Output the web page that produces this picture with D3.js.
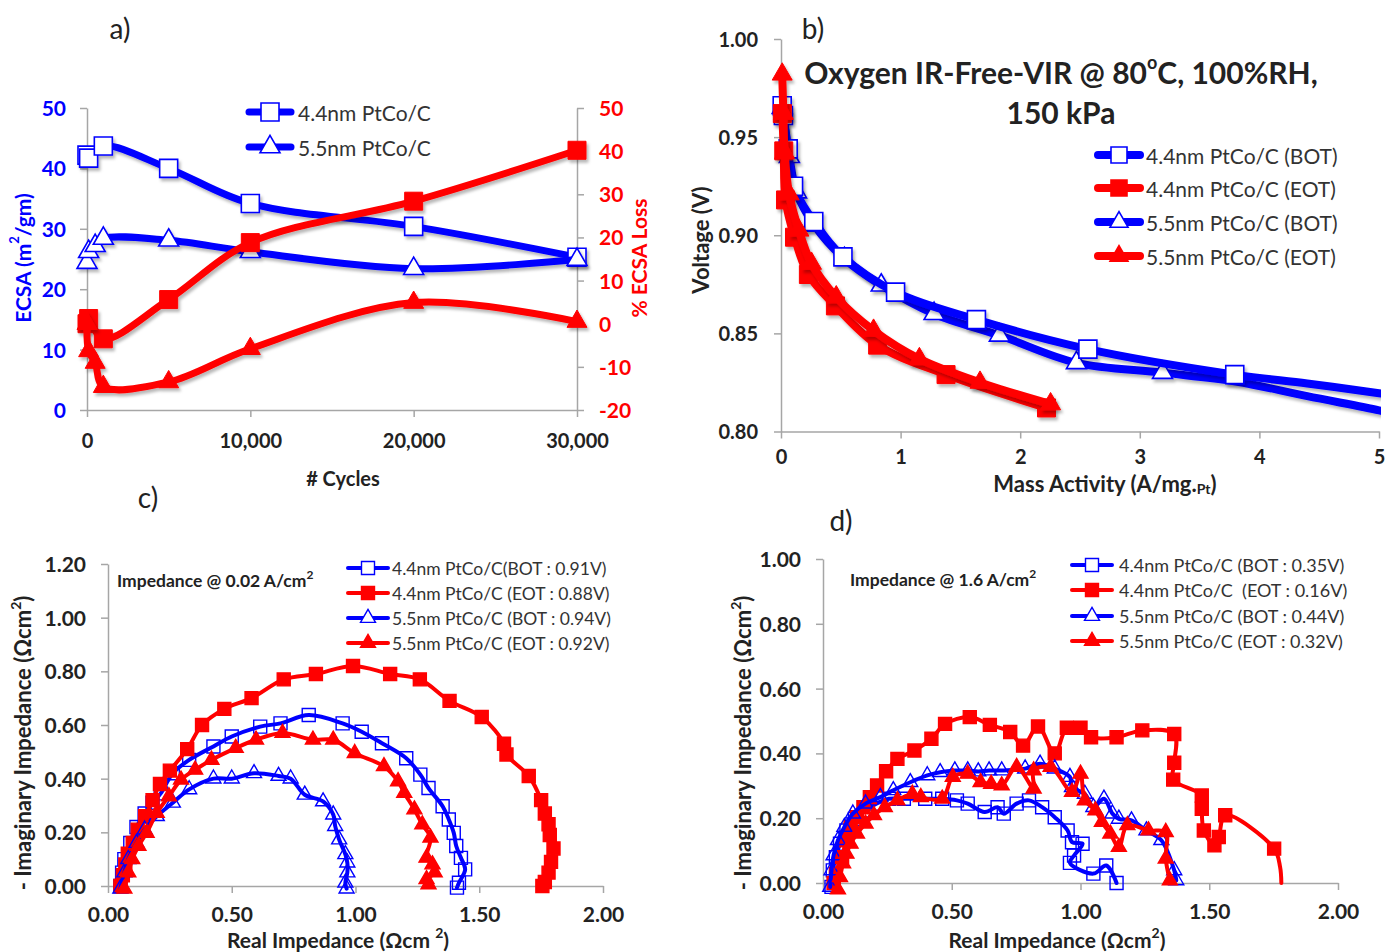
<!DOCTYPE html>
<html>
<head>
<meta charset="utf-8">
<script src="https://cdn.jsdelivr.net/npm/d3@7"></script>
<style>
  body { margin: 0; background: #fff; }
  svg { display: block; }
  text { font-family: Lato, "Open Sans", "DejaVu Sans", sans-serif; }
</style>
</head>
<body>
<svg id="fig" width="1386" height="952"></svg>
<script>
// ---------- a) ECSA and % ECSA loss versus potential cycles ----------
const cycles44 = [0, 100, 1000, 5000, 10000, 20000, 30000];
const ecsa44   = [42.2, 41.7, 43.7, 40.0, 34.2, 30.4, 25.3];
const loss44   = [0, 1.2, -3.5, 5.6, 18.8, 28.4, 40.2];
const cycles55 = [0, 100, 500, 1000, 5000, 10000, 20000, 30000];
const ecsa55   = [24.4, 26.2, 27.2, 28.4, 28.1, 26.2, 23.4, 24.9];
const loss55   = [0, -6.3, -9.0, -14.6, -13.5, -5.8, 4.9, 0.5];
const cycleTicks = [0, 10000, 20000, 30000];
const ecsaTicks  = [0, 10, 20, 30, 40, 50];
const lossTicks  = [-20, -10, 0, 10, 20, 30, 40, 50];
const legendA = ["4.4nm PtCo/C", "5.5nm PtCo/C"];

// ---------- b) IR-free voltage versus mass activity ----------
const maBot44 = [0.01, 0.02, 0.06, 0.105, 0.274, 0.518, 0.958, 1.634, 2.566, 3.794];
const vBot44  = [0.966, 0.961, 0.944, 0.925, 0.907, 0.889, 0.871, 0.857, 0.842, 0.829];
const maBot44Tail = [4.4, 5.0, 5.2];
const vBot44Tail  = [0.8245, 0.8195, 0.818];
const maEot44 = [0.011, 0.023, 0.038, 0.113, 0.229, 0.455, 0.808, 1.38, 2.22];
const vEot44  = [0.962, 0.943, 0.918, 0.899, 0.880, 0.864, 0.844, 0.829, 0.812];
const maBot55 = [0.01, 0.07, 0.13, 0.28, 0.53, 0.838, 1.28, 1.826, 2.47, 3.19];
const vBot55  = [0.965, 0.940, 0.922, 0.905, 0.888, 0.8745, 0.860, 0.849, 0.835, 0.830];
const maBot55Tail = [3.8, 4.4, 5.0, 5.2];
const vBot55Tail  = [0.8255, 0.818, 0.8108, 0.808];
const maEot55 = [0.01, 0.02, 0.03, 0.068, 0.15, 0.255, 0.462, 0.774, 1.157, 1.664, 2.254];
const vEot55  = [0.982, 0.962, 0.942, 0.921, 0.9025, 0.8856, 0.8685, 0.8515, 0.837, 0.825, 0.814];
const maTicks = [0, 1, 2, 3, 4, 5];
const vTicks  = [0.80, 0.85, 0.90, 0.95, 1.00];
const legendB = ["4.4nm PtCo/C (BOT)", "4.4nm PtCo/C (EOT)", "5.5nm PtCo/C (BOT)", "5.5nm PtCo/C (EOT)"];

// ---------- c) Nyquist plots at 0.02 A/cm2 : [Re, -Im] ----------
const c44Bot = [[0.05,0.00],[0.057,0.05],[0.066,0.10],[0.09,0.16],[0.115,0.22],[0.148,0.27],[0.18,0.31],[0.213,0.345],[0.262,0.42],[0.328,0.47],[0.426,0.52],[0.50,0.557],[0.615,0.594],[0.697,0.606],[0.811,0.637],[0.948,0.606],[1.025,0.575],[1.107,0.532],[1.205,0.476],[1.262,0.415],[1.295,0.365],[1.352,0.297],[1.377,0.248],[1.397,0.198],[1.407,0.149],[1.426,0.105],[1.443,0.062],[1.418,0.012],[1.41,-0.006]];
const c44Eot = [[0.05,0.00],[0.06,0.04],[0.07,0.08],[0.08,0.12],[0.10,0.16],[0.12,0.21],[0.15,0.26],[0.18,0.32],[0.21,0.38],[0.25,0.43],[0.32,0.51],[0.38,0.60],[0.47,0.66],[0.58,0.70],[0.71,0.77],[0.84,0.79],[0.99,0.82],[1.14,0.79],[1.26,0.77],[1.38,0.69],[1.51,0.63],[1.60,0.53],[1.61,0.49],[1.70,0.41],[1.75,0.32],[1.765,0.27],[1.78,0.23],[1.785,0.19],[1.80,0.14],[1.79,0.09],[1.78,0.05],[1.765,0.015],[1.755,0.00]];
const c55Bot = [[0.05,-0.01],[0.066,0.05],[0.082,0.10],[0.115,0.16],[0.148,0.21],[0.197,0.26],[0.262,0.31],[0.328,0.36],[0.426,0.40],[0.50,0.40],[0.59,0.42],[0.689,0.41],[0.738,0.40],[0.795,0.34],[0.869,0.315],[0.91,0.266],[0.918,0.223],[0.934,0.173],[0.959,0.118],[0.967,0.087],[0.967,0.05],[0.959,0.012],[0.964,-0.01]];
const c55Eot = [[0.066,-0.01],[0.082,0.05],[0.098,0.10],[0.123,0.149],[0.156,0.198],[0.197,0.272],[0.246,0.334],[0.295,0.396],[0.352,0.433],[0.418,0.47],[0.516,0.514],[0.598,0.545],[0.705,0.57],[0.828,0.545],[0.91,0.545],[0.997,0.495],[1.115,0.446],[1.172,0.39],[1.197,0.347],[1.238,0.285],[1.27,0.229],[1.303,0.18],[1.287,0.105],[1.311,0.08],[1.32,0.05],[1.287,0.025],[1.295,0.006]];
const legendC = ["4.4nm PtCo/C(BOT : 0.91V)", "4.4nm PtCo/C (EOT : 0.88V)", "5.5nm PtCo/C (BOT : 0.94V)", "5.5nm PtCo/C (EOT : 0.92V)"];
const reTicks = [0, 0.5, 1.0, 1.5, 2.0];
const imTicksC = [0, 0.2, 0.4, 0.6, 0.8, 1.0, 1.2];

// ---------- d) Nyquist plots at 1.6 A/cm2 : [Re, -Im] ----------
const d44Bot = [[0.033,-0.012],[0.038,0.039],[0.05,0.08],[0.066,0.121],[0.091,0.162],[0.124,0.198],[0.165,0.224],[0.207,0.245],[0.256,0.26],[0.314,0.26],[0.397,0.26],[0.463,0.26],[0.52,0.255],[0.562,0.245],[0.628,0.219],[0.678,0.234],[0.702,0.214],[0.752,0.245],[0.80,0.255],[0.851,0.234],[0.90,0.203],[0.95,0.162],[0.967,0.126],[1.008,0.121],[0.975,0.085],[0.959,0.062],[1.05,0.029],[1.10,0.054],[1.14,0.00]];
const d44Eot = [[0.041,0.00],[0.05,0.029],[0.074,0.08],[0.091,0.132],[0.107,0.173],[0.132,0.203],[0.157,0.234],[0.182,0.265],[0.21,0.301],[0.245,0.345],[0.289,0.383],[0.355,0.409],[0.421,0.445],[0.474,0.491],[0.57,0.512],[0.648,0.488],[0.727,0.466],[0.777,0.424],[0.835,0.483],[0.90,0.40],[0.947,0.479],[1.0,0.479],[1.041,0.45],[1.14,0.45],[1.24,0.471],[1.364,0.46],[1.364,0.371],[1.36,0.319],[1.471,0.27],[1.471,0.229],[1.479,0.162],[1.52,0.116],[1.537,0.142],[1.562,0.209],[1.752,0.106]];
const d44EotTail = [[1.775,0.05],[1.78,0.00]];
const d55Bot = [[0.028,-0.012],[0.033,0.039],[0.041,0.085],[0.058,0.132],[0.083,0.173],[0.116,0.214],[0.165,0.245],[0.223,0.265],[0.273,0.286],[0.339,0.311],[0.405,0.332],[0.455,0.342],[0.512,0.347],[0.562,0.347],[0.603,0.344],[0.645,0.347],[0.694,0.347],[0.785,0.353],[0.843,0.368],[0.90,0.353],[0.959,0.327],[0.967,0.296],[1.017,0.275],[1.05,0.234],[1.091,0.26],[1.124,0.214],[1.149,0.198],[1.198,0.193],[1.256,0.162],[1.314,0.132],[1.364,0.039],[1.372,0.008]];
const d55Eot = [[0.058,-0.02],[0.066,0.018],[0.078,0.06],[0.091,0.09],[0.107,0.121],[0.132,0.152],[0.165,0.183],[0.198,0.209],[0.24,0.234],[0.289,0.255],[0.347,0.275],[0.38,0.265],[0.463,0.26],[0.504,0.327],[0.562,0.337],[0.612,0.311],[0.653,0.306],[0.694,0.301],[0.752,0.358],[0.818,0.291],[0.818,0.347],[0.884,0.358],[0.967,0.281],[1.0,0.337],[1.017,0.255],[1.058,0.224],[1.083,0.188],[1.116,0.152],[1.149,0.111],[1.182,0.178],[1.264,0.162],[1.331,0.157],[1.331,0.075],[1.347,0.008]];
const legendD = ["4.4nm PtCo/C (BOT : 0.35V)", "4.4nm PtCo/C  (EOT : 0.16V)", "5.5nm PtCo/C (BOT : 0.44V)", "5.5nm PtCo/C (EOT : 0.32V)"];
const imTicksD = [0, 0.2, 0.4, 0.6, 0.8, 1.0];

// ---------- drawing ----------
const BLUE = "#0000ff", RED = "#ff0000", AXIS = "#a6a6a6", INK = "#222222";
const svg = d3.select("#fig");
const defs = svg.append("defs");
defs.append("filter").attr("id", "shadow")
  .attr("x", "-10%").attr("y", "-10%").attr("width", "130%").attr("height", "130%")
  .append("feDropShadow").attr("dx", 2).attr("dy", 3).attr("stdDeviation", 1.6)
  .attr("flood-color", "#000").attr("flood-opacity", 0.28);

const zip = (xs, ys) => xs.map((x, i) => [x, ys[i]]);
const plain = d => String(d);

function markerPath(shape, s) {
  if (shape === "square") return d3.symbol(d3.symbolSquare, s * s)();
  return d3.symbol(d3.symbolTriangle, Math.sqrt(3) / 4 * s * s)();
}

function series(g, pts, sx, sy, o) {
  const P = pts.map(d => [sx(d[0]), sy(d[1])]);
  const T = (o.tail || []).map(d => [sx(d[0]), sy(d[1])]);
  const grp = g.append("g");
  if (o.shadow) grp.attr("filter", "url(#shadow)");
  grp.append("path")
    .attr("d", d3.line().curve(o.curve || d3.curveCatmullRom.alpha(0.5))(P.concat(T)))
    .attr("fill", "none").attr("stroke", o.color).attr("stroke-width", o.lw)
    .attr("stroke-linejoin", "round").attr("stroke-linecap", "round");
  grp.selectAll(null).data(P).join("path")
    .attr("transform", d => `translate(${d[0]},${d[1]})`)
    .attr("d", markerPath(o.shape, o.ms))
    .attr("fill", o.filled ? o.color : o.hollow)
    .attr("stroke", o.color).attr("stroke-width", o.sw);
}

function styleAxis(g, color, size, orient, off) {
  g.attr("font-family", null).attr("font-size", size).attr("font-weight", "bold");
  g.select(".domain").attr("stroke", AXIS).attr("stroke-width", 1.5);
  g.selectAll(".tick line").attr("stroke", AXIS).attr("stroke-width", 1.5);
  const t = g.selectAll(".tick text").attr("fill", color).attr("dy", "0.36em");
  if (orient === "bottom") t.attr("y", off);
  else if (orient === "left") t.attr("x", -off);
  else t.attr("x", off).attr("text-anchor", "start");
}

function text(x, y, str, o = {}) {
  const t = svg.append("text").attr("x", x).attr("y", y)
    .attr("font-size", o.size || 20).attr("font-weight", o.weight || "bold")
    .attr("fill", o.color || INK).attr("text-anchor", o.anchor || "middle")
    .attr("dominant-baseline", "central")
    .style("white-space", "pre");
  if (o.rotate) t.attr("transform", `rotate(${o.rotate},${x},${y})`);
  t.text(str);
  return t;
}

function legendRow(cx, y, halfLen, label, o) {
  const g = svg.append("g");
  g.append("line").attr("x1", cx - halfLen).attr("x2", cx + halfLen).attr("y1", y).attr("y2", y)
    .attr("stroke", o.color).attr("stroke-width", o.lw).attr("stroke-linecap", "round");
  g.append("path").attr("transform", `translate(${cx},${y})`)
    .attr("d", markerPath(o.shape, o.ms))
    .attr("fill", o.filled ? o.color : o.hollow).attr("stroke", o.color).attr("stroke-width", o.sw);
  text(o.tx, y, label, { anchor: "start", weight: "normal", size: o.fs, color: o.tc || "#333" });
}

// ===== panel a =====
{
  const x = d3.scaleLinear([0, 30000], [87, 577]);
  const yL = d3.scaleLinear([0, 50], [410, 108]);
  const yR = d3.scaleLinear([-20, 50], [410, 108]);
  const gx = svg.append("g").attr("transform", `translate(0,${410})`)
    .call(d3.axisBottom(x).tickValues(cycleTicks).tickFormat(d3.format(",")).tickSize(7).tickSizeOuter(0));
  styleAxis(gx, INK, 20, "bottom", 31);
  const gl = svg.append("g").attr("transform", `translate(87,0)`)
    .call(d3.axisLeft(yL).tickValues(ecsaTicks).tickFormat(plain).tickSize(7).tickSizeOuter(0));
  styleAxis(gl, BLUE, 21, "left", 21);
  const gr = svg.append("g").attr("transform", `translate(577,0)`)
    .call(d3.axisRight(yR).tickValues(lossTicks).tickFormat(plain).tickSize(7).tickSizeOuter(0));
  styleAxis(gr, RED, 21, "right", 22);

  const g = svg.append("g");
  series(g, zip(cycles44, ecsa44), x, yL, { color: BLUE, lw: 7, shape: "square", ms: 18, filled: false, hollow: "#fff", sw: 1.6, shadow: true });
  series(g, zip(cycles55, ecsa55), x, yL, { color: BLUE, lw: 7, shape: "triangle", ms: 20, filled: false, hollow: "#fff", sw: 1.6, shadow: true });
  series(g, zip(cycles44, loss44), x, yR, { color: RED, lw: 7, shape: "square", ms: 18, filled: true, sw: 1, shadow: true });
  series(g, zip(cycles55, loss55), x, yR, { color: RED, lw: 7, shape: "triangle", ms: 20, filled: true, sw: 1, shadow: true });

  legendRow(270, 112, 21, legendA[0], { color: BLUE, lw: 7, shape: "square", ms: 18, hollow: "#fff", sw: 1.6, tx: 298, fs: 21 });
  legendRow(270, 147, 21, legendA[1], { color: BLUE, lw: 7, shape: "triangle", ms: 20, hollow: "#fff", sw: 1.6, tx: 298, fs: 21 });

  text(120, 28, "a)", { weight: "normal", size: 28, color: INK });
  text(343, 478, "# Cycles", { size: 20 });
  const ya = text(22, 258, "", { size: 21, color: BLUE, rotate: -90 });
  ya.append("tspan").text("ECSA (m");
  ya.append("tspan").attr("font-size", 13).attr("dy", -8).text("2");
  ya.append("tspan").attr("dy", 8).text("/gm)");
  text(638, 258, "% ECSA Loss", { size: 21, color: RED, rotate: -90 });
}

// ===== panel b =====
{
  const x = d3.scaleLinear([0, 5], [781, 1379]);
  const y = d3.scaleLinear([0.80, 1.00], [431.5, 39]);
  const gx = svg.append("g").attr("transform", `translate(0,431.5)`)
    .call(d3.axisBottom(x).tickValues(maTicks).tickFormat(d3.format("d")).tickSize(7).tickSizeOuter(0));
  styleAxis(gx, INK, 20, "bottom", 25);
  const gy = svg.append("g").attr("transform", `translate(781,0)`)
    .call(d3.axisLeft(y).tickValues(vTicks).tickFormat(d3.format(".2f")).tickSize(7).tickSizeOuter(0));
  styleAxis(gy, INK, 20, "left", 23);

  defs.append("clipPath").attr("id", "clipB").append("rect")
    .attr("x", 760).attr("y", 20).attr("width", x(5) - 760 + 2).attr("height", 430);
  const g = svg.append("g").attr("clip-path", "url(#clipB)");
  // 5.5nm BOT sits beneath the 4.4nm BOT markers where the two curves coincide
  series(g, zip(maBot55, vBot55), x, y, { color: BLUE, lw: 8, shape: "triangle", ms: 20, hollow: "#fff", sw: 1.6, shadow: true, tail: zip(maBot55Tail, vBot55Tail) });
  series(g, zip(maBot44, vBot44), x, y, { color: BLUE, lw: 8, shape: "square", ms: 18, hollow: "#fff", sw: 1.6, shadow: true, tail: zip(maBot44Tail, vBot44Tail) });
  series(g, zip(maEot44, vEot44), x, y, { color: RED, lw: 8, shape: "square", ms: 18, filled: true, sw: 1, shadow: true });
  series(g, zip(maEot55, vEot55), x, y, { color: RED, lw: 8, shape: "triangle", ms: 20, filled: true, sw: 1, shadow: true });

  const rows = [155, 188, 222, 256];
  const sty = [
    { color: BLUE, shape: "square", filled: false },
    { color: RED, shape: "square", filled: true },
    { color: BLUE, shape: "triangle", filled: false },
    { color: RED, shape: "triangle", filled: true }];
  legendB.forEach((lab, i) => legendRow(1119, rows[i], 21, lab,
    { ...sty[i], lw: 8, ms: sty[i].shape === "square" ? 16 : 18, hollow: "#fff", sw: 1.6, tx: 1146, fs: 21 }));

  text(813, 28, "b)", { weight: "normal", size: 28, color: INK });
  const tt = text(1061, 72, "", { size: 30 });
  tt.append("tspan").text("Oxygen IR-Free-VIR @ 80");
  tt.append("tspan").attr("font-size", 18).attr("dy", -10).text("o");
  tt.append("tspan").attr("dy", 10).text("C, 100%RH,");
  text(1061, 112, "150 kPa", { size: 30 });
  text(700, 240, "Voltage (V)", { size: 22, rotate: -90 });
  const xt = text(1105, 483, "", { size: 22 });
  xt.append("tspan").text("Mass Activity (A/mg.");
  xt.append("tspan").attr("font-size", 14).attr("dy", 5).text("Pt");
  xt.append("tspan").attr("dy", -5).text(")");
}

// ===== panels c and d (Nyquist) =====
function nyquist(p) {
  const x = d3.scaleLinear([0, 2], [p.x0, p.x1]);
  const y = d3.scaleLinear([0, p.ymax], [p.y0, p.y1]);
  const gx = svg.append("g").attr("transform", `translate(0,${p.y0})`)
    .call(d3.axisBottom(x).tickValues(reTicks).tickFormat(d3.format(".2f")).tickSize(7).tickSizeOuter(0));
  styleAxis(gx, INK, 21, "bottom", p.xoff);
  const gy = svg.append("g").attr("transform", `translate(${p.x0},0)`)
    .call(d3.axisLeft(y).tickValues(p.yticks).tickFormat(d3.format(".2f")).tickSize(7).tickSizeOuter(0));
  styleAxis(gy, INK, 21, "left", 22);

  const g = svg.append("g");
  const base = { lw: 4, ms: 13, sw: 1.4, hollow: "none" };
  series(g, p.s[0], x, y, { ...base, color: BLUE, shape: "square", filled: false });
  series(g, p.s[1], x, y, { ...base, color: RED, shape: "square", filled: true, tail: p.tail1 });
  series(g, p.s[2], x, y, { ...base, color: BLUE, shape: "triangle", ms: 15, filled: false });
  series(g, p.s[3], x, y, { ...base, color: RED, shape: "triangle", ms: 15, filled: true });

  const sty = [
    { color: BLUE, shape: "square", filled: false },
    { color: RED, shape: "square", filled: true },
    { color: BLUE, shape: "triangle", filled: false },
    { color: RED, shape: "triangle", filled: true }];
  p.legend.forEach((lab, i) => legendRow(p.lx, p.rows[i], 20, lab,
    { ...sty[i], lw: 4, ms: sty[i].shape === "square" ? 13 : 15, hollow: "#fff", sw: 1.4, tx: p.lx + p.tgap, fs: p.lfs }));

  const note = text(p.noteX, p.noteY, "", { size: 17.5, anchor: "start" });
  note.append("tspan").text(p.note);
  note.append("tspan").attr("font-size", 12).attr("dy", -6).text("2");

  text(p.labX, p.labY, p.lab, { weight: "normal", size: 28, color: INK });
  const xt = text(p.xtX, 939, "", { size: 21 });
  xt.append("tspan").text(p.xtitle);
  xt.append("tspan").attr("font-size", 14).attr("dy", -7).text("2");
  xt.append("tspan").attr("dy", 7).text(")");
  const yt = text(p.ytX, 743, "", { size: 22, rotate: -90 });
  yt.append("tspan").text("- Imaginary Impedance (Ωcm");
  yt.append("tspan").attr("font-size", 14).attr("dy", -7).text("2");
  yt.append("tspan").attr("dy", 7).text(")");
}

nyquist({
  x0: 108, x1: 603, y0: 886, y1: 564, ymax: 1.2, yticks: imTicksC, xoff: 28,
  s: [c44Bot, c44Eot, c55Bot, c55Eot], legend: legendC,
  lx: 368, rows: [568, 593, 618, 643], tgap: 24, lfs: 17.5,
  note: "Impedance @ 0.02 A/cm", noteX: 117, noteY: 580,
  lab: "c)", labX: 148, labY: 497, xtitle: "Real Impedance (Ωcm ", xtX: 338, ytX: 22
});
nyquist({
  x0: 823, x1: 1338, y0: 883, y1: 559, ymax: 1.0, yticks: imTicksD, xoff: 28,
  s: [d44Bot, d44Eot, d55Bot, d55Eot], tail1: d44EotTail, legend: legendD,
  lx: 1092, rows: [565, 590, 616, 641], tgap: 27, lfs: 18,
  note: "Impedance @ 1.6 A/cm", noteX: 850, noteY: 579,
  lab: "d)", labX: 841, labY: 520, xtitle: "Real Impedance (Ωcm", xtX: 1057, ytX: 742
});
</script>
</body>
</html>
